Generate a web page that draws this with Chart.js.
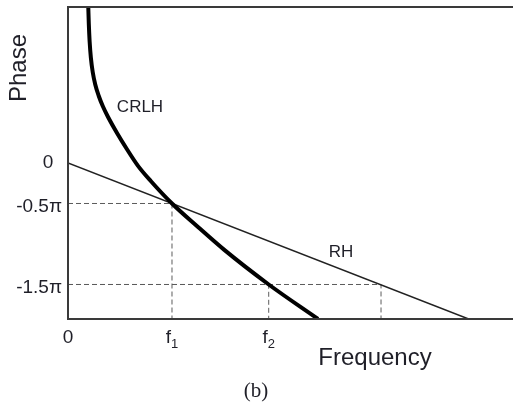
<!DOCTYPE html>
<html>
<head>
<meta charset="utf-8">
<script src="https://cdn.jsdelivr.net/npm/chart.js@4.4.1/dist/chart.umd.min.js"></script>
<style>
  body { margin: 0; background: #fff; }
  #wrap { width: 513px; height: 403px; }
</style>
</head>
<body>
<div id="wrap"><canvas id="phaseChart" width="513" height="403"></canvas></div>
<script>
// frequency in units of f1, phase in units of pi
const crlhFreq  = [0.195, 0.200, 0.208, 0.220, 0.238, 0.262, 0.295, 0.335, 0.385, 0.471, 0.567, 0.673, 0.798, 1.0, 1.25, 1.5, 1.93, 2.404];
const crlhPhase = [1.926, 1.72, 1.50, 1.30, 1.12, 0.97, 0.83, 0.70, 0.568, 0.37, 0.17, -0.035, -0.225, -0.5, -0.79, -1.07, -1.5, -1.926];

const rhFreq  = [0, 3.846];
const rhPhase = [0, -1.923];

// dashed guide corners (freq, phase)
const markFreq  = [1.0, 1.93, 3.01];
const markPhase = [-0.5, -1.5, -1.5];

const yTickValues = [0, -0.5, -1.5];
const yTickLabels = ["0", "-0.5\u03c0", "-1.5\u03c0"];
const xTickValues = [0, 1.0, 1.93];
const xTickLabels = ["0", "f1", "f2"];

const X_MIN = 0, X_MAX = 4.279;
const Y_MIN = -1.926, Y_MAX = 1.926;

const toPoints = (xs, ys) => xs.map((x, i) => ({ x: x, y: ys[i] }));

const guideSets = markFreq.map((f, i) => ({
    data: [{ x: 0, y: markPhase[i] }, { x: f, y: markPhase[i] }, { x: f, y: Y_MIN }],
    borderColor: '#5c5c5c',
    borderWidth: 1,
    borderDash: [5, 3],
    pointRadius: 0,
    tension: 0
}));

const textColor = '#1f1f28';
const sans = '"Liberation Sans", Arial, sans-serif';

const labelPlugin = {
    id: 'labelPlugin',
    afterDraw(chart) {
        const ctx = chart.ctx;
        const area = chart.chartArea;
        const xs = chart.scales.x;
        const ys = chart.scales.y;

        // frame: top, left, bottom
        ctx.save();
        ctx.strokeStyle = '#3a3a3a';
        ctx.lineWidth = 2;
        ctx.beginPath();
        ctx.moveTo(chart.width, area.top);
        ctx.lineTo(area.left, area.top);
        ctx.lineTo(area.left, area.bottom);
        ctx.lineTo(chart.width, area.bottom);
        ctx.stroke();

        ctx.fillStyle = textColor;
        ctx.textBaseline = 'middle';

        // y tick labels
        ctx.font = '19px ' + sans;
        yTickValues.forEach((v, i) => {
            const py = ys.getPixelForValue(v);
            if (yTickLabels[i] === "0") {
                ctx.textAlign = 'center';
                ctx.fillText(yTickLabels[i], area.left - 20, py);
            } else {
                ctx.textAlign = 'right';
                ctx.fillText(yTickLabels[i], area.left - 6, py + 3);
            }
        });

        // x tick labels (f with subscript)
        xTickValues.forEach((v, i) => {
            const px = xs.getPixelForValue(v);
            const lab = xTickLabels[i];
            const py = area.bottom + 19;
            if (lab.length > 1) {
                ctx.font = '19px ' + sans;
                const w1 = ctx.measureText(lab[0]).width;
                ctx.font = '13px ' + sans;
                const w2 = ctx.measureText(lab.slice(1)).width;
                const x0 = px - (w1 + w2) / 2;
                ctx.textAlign = 'left';
                ctx.font = '19px ' + sans;
                ctx.fillText(lab[0], x0, py);
                ctx.font = '13px ' + sans;
                ctx.fillText(lab.slice(1), x0 + w1, py + 6);
            } else {
                ctx.textAlign = 'center';
                ctx.font = '19px ' + sans;
                ctx.fillText(lab, px, py);
            }
        });

        // axis titles
        ctx.font = '24px ' + sans;
        ctx.textAlign = 'center';
        ctx.fillText('Frequency', 375, area.bottom + 39);
        ctx.save();
        ctx.translate(19, 68);
        ctx.rotate(-Math.PI / 2);
        ctx.fillText('Phase', 0, 0);
        ctx.restore();

        // curve labels
        ctx.font = '17px ' + sans;
        ctx.fillText('CRLH', 140, 107);
        ctx.fillText('RH', 341, 252);

        // caption
        ctx.font = '21px "Liberation Serif", "Times New Roman", serif';
        ctx.fillText('(b)', 256, 391);
        ctx.restore();
    }
};

new Chart(document.getElementById('phaseChart'), {
    type: 'line',
    data: {
        datasets: [
            {
                data: toPoints(crlhFreq, crlhPhase),
                borderColor: '#000',
                borderWidth: 4,
                pointRadius: 0,
                cubicInterpolationMode: 'monotone'
            },
            {
                data: toPoints(rhFreq, rhPhase),
                borderColor: '#222',
                borderWidth: 1.5,
                pointRadius: 0,
                tension: 0
            },
            ...guideSets
        ]
    },
    options: {
        responsive: false,
        animation: false,
        layout: { padding: { left: 68, right: 0, top: 7, bottom: 84 } },
        plugins: { legend: { display: false }, tooltip: { enabled: false } },
        scales: {
            x: { type: 'linear', display: false, min: X_MIN, max: X_MAX },
            y: { type: 'linear', display: false, min: Y_MIN, max: Y_MAX }
        }
    },
    plugins: [labelPlugin]
});
</script>
</body>
</html>
